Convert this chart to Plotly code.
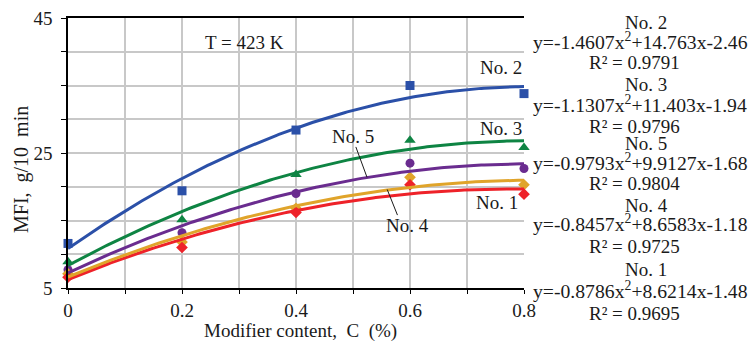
import numpy as np
import plotly.graph_objects as go

# ---- data ----
content = [0, 0.2, 0.4, 0.6, 0.8]
names = ["No. 2", "No. 3", "No. 5", "No. 4", "No. 1"]
mfi_no2 = [11.6, 19.4, 28.4, 35.0, 33.8]
mfi_no3 = [8.9, 15.1, 21.8, 26.9, 25.8]
mfi_no5 = [7.7, 13.2, 19.0, 23.5, 22.7]
mfi_no4 = [7.1, 11.8, 16.8, 21.4, 20.3]
mfi_no1 = [6.6, 11.0, 16.2, 20.3, 18.9]
# trendline coefficients (a, b, c) for y = a x^2 + b x + c, x = point index 1..5
coef_no2 = [-1.4607, 14.763, -2.46]
coef_no3 = [-1.1307, 11.403, -1.94]
coef_no5 = [-0.9793, 9.9127, -1.68]
coef_no4 = [-0.8457, 8.6583, -1.18]
coef_no1 = [-0.8786, 8.6214, -1.48]
r2_no2, r2_no3, r2_no5, r2_no4, r2_no1 = "0.9791", "0.9796", "0.9804", "0.9725", "0.9695"
eq_no2 = "y=-1.4607x<sup>2</sup>+14.763x-2.46"
eq_no3 = "y=-1.1307x<sup>2</sup>+11.403x-1.94"
eq_no5 = "y=-0.9793x<sup>2</sup>+9.9127x-1.68"
eq_no4 = "y=-0.8457x<sup>2</sup>+8.6583x-1.18"
eq_no1 = "y=-0.8786x<sup>2</sup>+8.6214x-1.48"

series = [
    ("No. 2", mfi_no2, coef_no2, eq_no2, r2_no2, "#2B50A8", "square", 9),
    ("No. 3", mfi_no3, coef_no3, eq_no3, r2_no3, "#0E8443", "triangle-up", 10),
    ("No. 5", mfi_no5, coef_no5, eq_no5, r2_no5, "#6A2C8F", "circle", 9),
    ("No. 4", mfi_no4, coef_no4, eq_no4, r2_no4, "#E0A42A", "diamond", 9),
    ("No. 1", mfi_no1, coef_no1, eq_no1, r2_no1, "#EE2229", "diamond", 9),
]

FONT = "Liberation Serif, Times New Roman, serif"
W, H = 755, 345
L, R, T, B = 68, 524, 18, 288

def px(xp):
    return (xp - L) / (R - L)

def py(yp):
    return (B - yp) / (B - T)

fig = go.Figure()
cfine = np.linspace(0, 0.8, 161)
idx = cfine / 0.2 + 1
for name, vals, coef, eq, r2, col, sym, sz in series:
    fig.add_trace(go.Scatter(x=content, y=vals, mode="markers", name=name,
                             marker=dict(symbol=sym, size=sz, color=col),
                             cliponaxis=False, showlegend=False))
for name, vals, coef, eq, r2, col, sym, sz in reversed(series):
    fig.add_trace(go.Scatter(x=cfine, y=np.polyval(coef, idx), mode="lines",
                             line=dict(color=col, width=3), showlegend=False,
                             hoverinfo="skip"))

ann = []
def add_text(x, y, text, xref="x", yref="y", size=19, xanchor="center", angle=0):
    ann.append(dict(x=x, y=y, xref=xref, yref=yref, text=text, showarrow=False,
                    font=dict(family=FONT, size=size, color="#1a1a1a"),
                    xanchor=xanchor, yanchor="middle", textangle=angle))

# in-plot labels
add_text(0.760, 37.6, "No. 2")
add_text(0.760, 28.7, "No. 3")
add_text(0.500, 27.4, "No. 5")
add_text(0.595, 14.3, "No. 4")
add_text(0.753, 17.6, "No. 1")
add_text(0.3105, 41.3, "T = 423 K")

# axis titles
add_text(px(300), py(331), "Modifier content,  C  (%)", "paper", "paper")
add_text(px(22), py(170), "MFI,  g/10  min", "paper", "paper", size=20, angle=-90)

# equation block on the right
line_y = [23, 41, 62, 85, 104, 126, 143, 162, 183, 205, 223, 246, 269, 290, 313]
k = 0
for name, vals, coef, eq, r2, col, sym, sz in series:
    add_text(px(646), py(line_y[k]), name, "paper", "paper"); k += 1
    add_text(px(640), py(line_y[k]), eq, "paper", "paper", size=19.7); k += 1
    add_text(px(634), py(line_y[k]), "R² = " + r2, "paper", "paper"); k += 1

shapes = [
    dict(type="line", xref="x", yref="y", x0=0.505, y0=25.9, x1=0.5246, y1=21.4,
         line=dict(color="#1a1a1a", width=1)),
    dict(type="line", xref="x", yref="y", x0=0.578, y0=15.8, x1=0.560, y1=19.6,
         line=dict(color="#1a1a1a", width=1)),
]

fig.update_layout(
    width=W, height=H,
    margin=dict(l=L, r=W - R, t=T, b=H - B, pad=0, autoexpand=False),
    plot_bgcolor="white", paper_bgcolor="white",
    font=dict(family=FONT, size=19, color="#1a1a1a"),
    annotations=ann, shapes=shapes,
    xaxis=dict(range=[0, 0.8], tickvals=[0, 0.2, 0.4, 0.6, 0.8],
               ticktext=["0", "0.2", "0.4", "0.6", "0.8"], automargin=False,
               showgrid=True, gridcolor="#c8c8c8", gridwidth=1.5,
               showline=True, linecolor="black", linewidth=1.5, mirror=True,
               ticks="outside", ticklen=4, tickcolor="black",
               minor=dict(dtick=0.1, tick0=0, showgrid=True, gridcolor="#c8c8c8",
                          gridwidth=1.5, ticks="outside", ticklen=4, tickcolor="black"),
               zeroline=False),
    yaxis=dict(range=[5, 45], tickvals=[5, 25, 45], automargin=False,
               showgrid=True, gridcolor="#c8c8c8", gridwidth=1.5,
               showline=True, linecolor="black", linewidth=1.5,
               ticks="outside", ticklen=5, tickcolor="black", ticklabelstandoff=5,
               minor=dict(dtick=5, tick0=5, showgrid=True, gridcolor="#c8c8c8",
                          gridwidth=1.5, ticks="outside", ticklen=5, tickcolor="black"),
               zeroline=False),
)

fig.write_html("out.html", config={"displayModeBar": False},
               post_script="document.body.style.margin='0';document.body.style.padding='0';")
